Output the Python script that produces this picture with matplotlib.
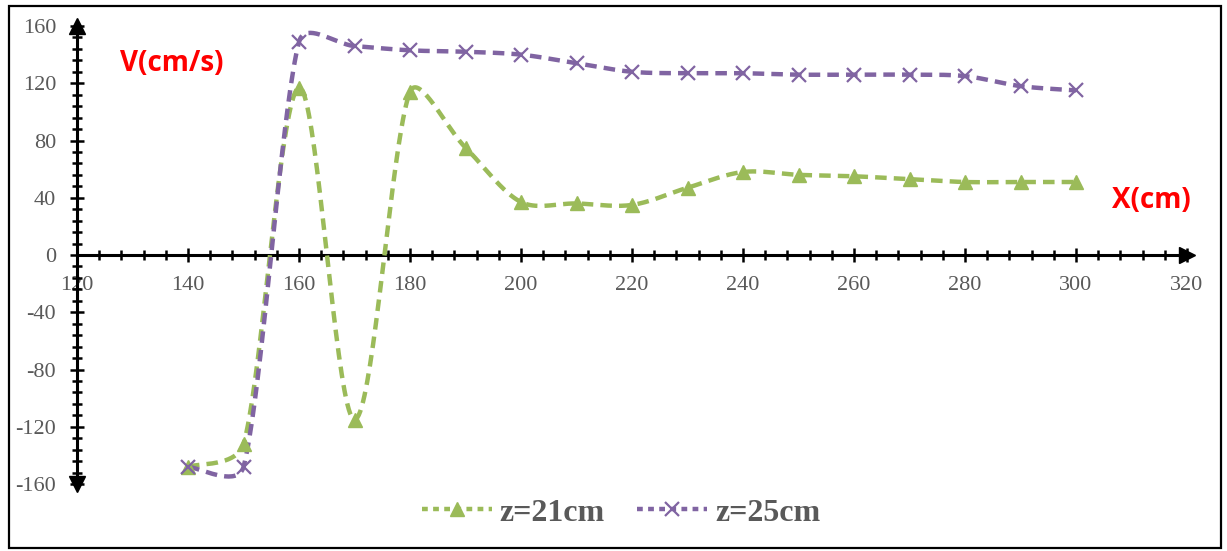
import numpy as np
import matplotlib
matplotlib.use('Agg')
import matplotlib.pyplot as plt
from matplotlib.patches import Rectangle
from matplotlib.ticker import MultipleLocator

x_cm = [140, 150, 160, 170, 180, 190, 200, 210, 220, 230, 240, 250, 260, 270, 280, 290, 300]
v_z21 = [-148, -132, 117, -115, 114, 75, 37, 36, 35, 47, 58, 56, 55, 53, 51, 51, 51]
v_z25 = [-148, -148, 149, 146, 143, 142, 140, 134, 128, 127, 127, 126, 126, 126, 125, 118, 115]
series_names = ['z=21cm', 'z=25cm']
x_ticks = [120, 140, 160, 180, 200, 220, 240, 260, 280, 300, 320]
y_ticks = [-160, -120, -80, -40, 0, 40, 80, 120, 160]

GREEN = '#9BBB59'
PURPLE = '#8064A2'
GREY = '#595959'

plt.rcParams['axes.unicode_minus'] = False


def smooth(ax, xs, ys, n=40):
    """Excel style smoothed line: cubic bezier, tangent arms shortened next to short segments"""
    p = ax.transData.transform(np.column_stack([xs, ys]).astype(float))
    p = np.vstack([p[0], p, p[-1]])
    out = []
    for i in range(1, len(p) - 2):
        p0, p1, p2, p3 = p[i - 1], p[i], p[i + 1], p[i + 2]
        d01 = np.hypot(*(p1 - p0))
        d12 = np.hypot(*(p2 - p1))
        d23 = np.hypot(*(p3 - p2))
        f1 = min(1.0, 2 * d12 / (d01 + d12)) ** 0.8
        f2 = min(1.0, 2 * d12 / (d12 + d23)) ** 0.8
        c1 = p1 + (p2 - p0) * f1 / 6.0
        c2 = p2 - (p3 - p1) * f2 / 6.0
        t = np.linspace(0, 1, n)[:, None]
        seg = ((1 - t) ** 3) * p1 + 3 * ((1 - t) ** 2) * t * c1 + 3 * (1 - t) * t ** 2 * c2 + t ** 3 * p2
        out.append(seg if i == 1 else seg[1:])
    out = ax.transData.inverted().transform(np.vstack(out))
    return out[:, 0], out[:, 1]


fig = plt.figure(figsize=(12.27, 5.51), dpi=100)
ax = fig.add_axes([0.0628, 0.1216, 0.9046, 0.8312])
ax.set_xlim(120, 320)
ax.set_ylim(-160, 160)

#outer chart border
fig.patches.append(Rectangle((0.007, 0.005), 0.988, 0.984, transform=fig.transFigure,
                             fill=False, edgecolor='black', linewidth=1.6))

for vals, col, mk, ms, mew, name in [(v_z21, GREEN, '^', 10, 1, series_names[0]),
                                     (v_z25, PURPLE, 'x', 10, 1.6, series_names[1])]:
    sx, sy = smooth(ax, x_cm, vals)
    ax.plot(sx, sy, color=col, linewidth=3.2, linestyle=(0, (2.6, 1.6)), zorder=3, clip_on=False)
    ax.plot(x_cm, vals, linestyle='none', marker=mk, markersize=ms, color=col,
            markeredgewidth=mew, zorder=4, clip_on=False)
    #proxy for legend
    ax.plot([], [], color=col, linewidth=3.2, linestyle=(0, (1.3, 1.2)), marker=mk,
            markersize=ms, markeredgewidth=mew, label=name)

ax.spines['top'].set_visible(False)
ax.spines['right'].set_visible(False)
ax.spines['bottom'].set_position(('data', 0))
for s in ['left', 'bottom']:
    ax.spines[s].set_linewidth(2.2)
    ax.spines[s].set_zorder(2)

ax.set_xticks(x_ticks)
ax.set_yticks(y_ticks)
ax.xaxis.set_minor_locator(MultipleLocator(4))
ax.yaxis.set_minor_locator(MultipleLocator(8))
ax.tick_params(which='major', direction='inout', length=10, width=1.8, color='black')
ax.tick_params(which='minor', direction='inout', length=7, width=1.8, color='black')
ax.tick_params(axis='x', which='major', pad=10, labelsize=16, labelcolor=GREY)
ax.tick_params(axis='y', which='major', pad=10, labelsize=16, labelcolor=GREY)
for lab in ax.get_xticklabels() + ax.get_yticklabels():
    lab.set_family('Liberation Serif')

#arrow heads on the axes
ax.plot(1, 0, marker='>', color='black', markersize=11, transform=ax.get_yaxis_transform(),
        clip_on=False, zorder=5)
ax.plot(0, 1, marker='^', color='black', markersize=11, transform=ax.transAxes,
        clip_on=False, zorder=5)
ax.plot(0, 0, marker='v', color='black', markersize=11, transform=ax.transAxes,
        clip_on=False, zorder=5)

ax.text(0.039, 0.919, 'V(cm/s)', transform=ax.transAxes, color='red', fontsize=20,
        fontweight='bold', family='Open Sans', va='center', ha='left')
ax.text(0.932, 0.62, 'X(cm)', transform=ax.transAxes, color='red', fontsize=20,
        fontweight='bold', family='Open Sans', va='center', ha='left')

leg = fig.legend(loc='center', bbox_to_anchor=(0.506, 0.069), ncol=2, frameon=False,
                 handlelength=2.2, handletextpad=0.25, columnspacing=1.0,
                 prop={'family': 'Liberation Serif', 'weight': 'bold', 'size': 23})
for t in leg.get_texts():
    t.set_color(GREY)

fig.savefig('out.png', dpi=100)
